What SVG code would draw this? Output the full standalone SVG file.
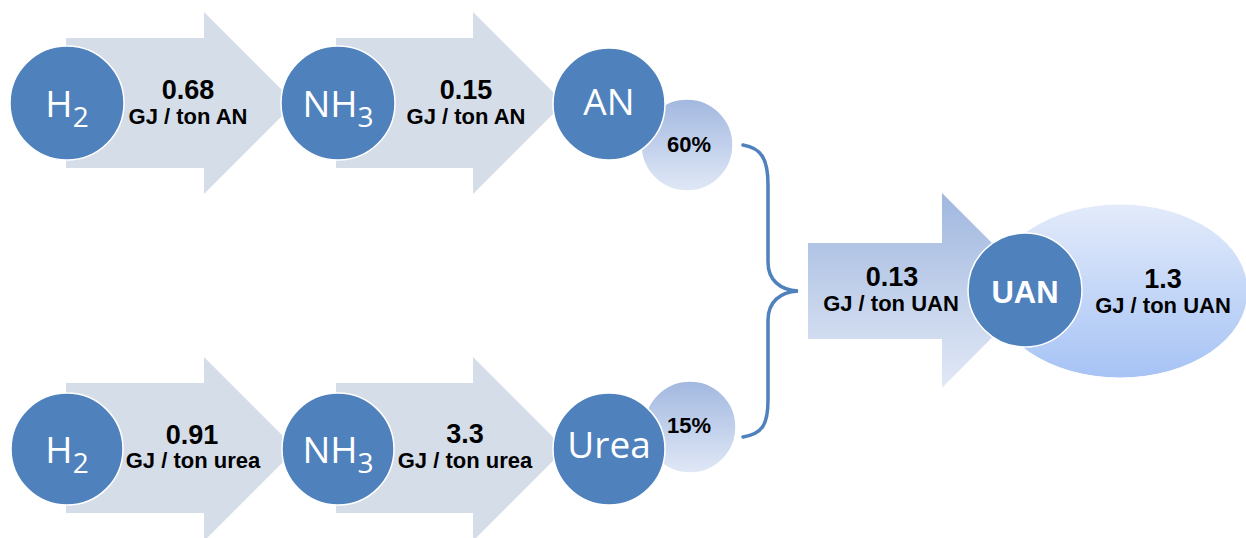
<svg xmlns="http://www.w3.org/2000/svg" width="1246" height="538" viewBox="0 0 1246 538">
<defs>
<linearGradient id="gPct" x1="0" y1="0" x2="0" y2="1">
<stop offset="0" stop-color="#a2b8e0"/><stop offset="1" stop-color="#e0e8f6"/>
</linearGradient>
<linearGradient id="gArr" x1="0" y1="0" x2="0" y2="1">
<stop offset="0" stop-color="#a0b7df"/><stop offset="1" stop-color="#e2e9f6"/>
</linearGradient>
<linearGradient id="gEll" x1="0" y1="0" x2="0" y2="1">
<stop offset="0" stop-color="#e3ebfa"/><stop offset="1" stop-color="#a6c3f5"/>
</linearGradient>
</defs>
<style>
.arr{fill:#d5dde9}
.node{fill:#4f81bd;stroke:#ffffff;stroke-width:1.5}
.nt{font-family:"Open Sans","Liberation Sans",sans-serif;font-size:37px;fill:#ffffff;text-anchor:middle}
.sub{font-size:28px}
.num{font-family:"Liberation Sans",Arial,sans-serif;font-weight:bold;font-size:27px;fill:#000;text-anchor:middle}
.unit{font-family:"Liberation Sans",Arial,sans-serif;font-weight:bold;font-size:22px;fill:#000;text-anchor:middle}
.pct{font-family:"Liberation Sans",Arial,sans-serif;font-weight:bold;font-size:22px;fill:#000;text-anchor:middle}
.brace{fill:none;stroke:#4f81bd;stroke-width:3.5;stroke-linecap:round}
</style>

<g id="connectors">
<path class="brace" d="M743,145 C762,148 768,160 768,185 L768,262 C768,280 780,290 798,291 C780,292 768,302 768,320 L768,400 C768,425 762,434 743,437"/>
</g>

<g id="arrow-h2-nh3-an">
<polygon class="arr" points="66,38 204,38 204,12 295,103 204,194 204,168 66,168"/>
<text class="num" x="188" y="99">0.68</text>
<text class="unit" x="188" y="124">GJ / ton AN</text>
</g>
<g id="arrow-nh3-an">
<polygon class="arr" points="336,38 473,38 473,12 564,103 473,194 473,168 336,168"/>
<text class="num" x="466" y="99">0.15</text>
<text class="unit" x="466" y="124">GJ / ton AN</text>
</g>
<g id="arrow-h2-nh3-urea">
<polygon class="arr" points="66,383 204,383 204,357 296,449 204,541 204,513 66,513"/>
<text class="num" x="192" y="444">0.91</text>
<text class="unit" x="193" y="468">GJ / ton urea</text>
</g>
<g id="arrow-nh3-urea">
<polygon class="arr" points="336,383 473,383 473,357 565,449 473,541 473,513 336,513"/>
<text class="num" x="465" y="443">3.3</text>
<text class="unit" x="465" y="468">GJ / ton urea</text>
</g>
<g id="arrow-uan">
<polygon fill="url(#gArr)" points="808,243 942,243 942,193 1039,290 942,388 942,339 808,339"/>
<text class="num" x="892" y="286">0.13</text>
<text class="unit" x="891" y="311">GJ / ton UAN</text>
</g>

<g id="node-h2-top">
<circle class="node" cx="67" cy="103" r="57"/>
<text class="nt" x="67" y="117">H<tspan class="sub" dy="10">2</tspan></text>
</g>
<g id="node-nh3-top">
<circle class="node" cx="338" cy="103" r="57"/>
<text class="nt" x="338" y="117">NH<tspan class="sub" dy="10">3</tspan></text>
</g>
<g id="node-pct60">
<circle cx="687" cy="145" r="46" fill="url(#gPct)" stroke="#ffffff" stroke-width="1.5"/>
<text class="pct" x="689" y="152">60%</text>
</g>
<g id="node-an">
<circle class="node" cx="609" cy="104" r="56"/>
<text class="nt" x="609" y="115">AN</text>
</g>

<g id="node-h2-bottom">
<circle class="node" cx="67" cy="449" r="56"/>
<text class="nt" x="67" y="463">H<tspan class="sub" dy="10">2</tspan></text>
</g>
<g id="node-nh3-bottom">
<circle class="node" cx="338" cy="449" r="56"/>
<text class="nt" x="338" y="463">NH<tspan class="sub" dy="10">3</tspan></text>
</g>
<g id="node-pct15">
<circle cx="690" cy="427" r="46" fill="url(#gPct)" stroke="#ffffff" stroke-width="1.5"/>
<text class="pct" x="689" y="433">15%</text>
</g>
<g id="node-urea">
<circle class="node" cx="609" cy="449" r="56"/>
<text class="nt" x="609" y="458">Urea</text>
</g>

<g id="node-uan-total">
<ellipse cx="1120" cy="291" rx="128" ry="87" fill="url(#gEll)" stroke="#ffffff" stroke-width="1"/>
<text class="num" x="1163" y="288">1.3</text>
<text class="unit" x="1163" y="313">GJ / ton UAN</text>
</g>
<g id="node-uan">
<circle class="node" cx="1025" cy="290" r="57"/>
<text x="1025" y="303" style="font-family:'Liberation Sans',Arial,sans-serif;font-weight:bold;font-size:31px;fill:#fff;text-anchor:middle">UAN</text>
</g>
</svg>
